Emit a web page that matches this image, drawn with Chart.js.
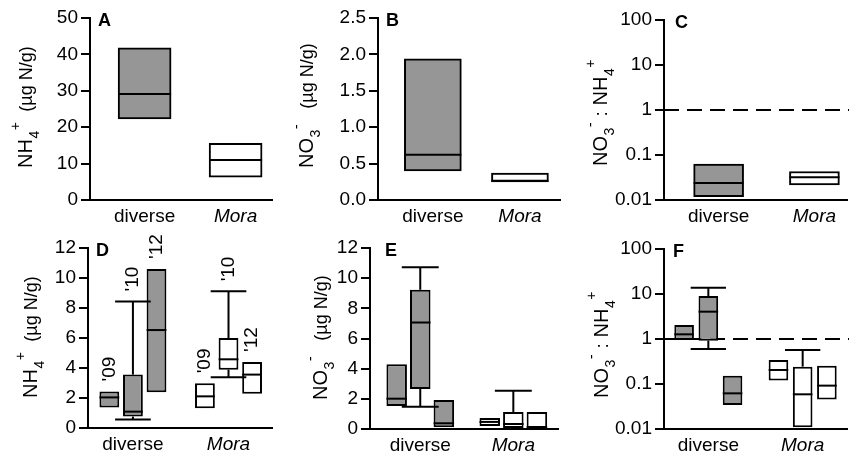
<!DOCTYPE html>
<html>
<head>
<meta charset="utf-8">
<script src="https://cdn.jsdelivr.net/npm/chart.js@4.4.1/dist/chart.umd.min.js"></script>
<style>
  body { margin: 0; background: #fff; }
  #wrap { position: relative; width: 849px; height: 461px; overflow: hidden; }
  canvas { position: absolute; }
</style>
</head>
<body>
<div id="wrap">
  <canvas id="panelA" width="283" height="230" style="left:0;top:0"></canvas>
  <canvas id="panelB" width="283" height="230" style="left:283px;top:0"></canvas>
  <canvas id="panelC" width="283" height="230" style="left:566px;top:0"></canvas>
  <canvas id="panelD" width="283" height="231" style="left:0;top:230px"></canvas>
  <canvas id="panelE" width="283" height="231" style="left:283px;top:230px"></canvas>
  <canvas id="panelF" width="283" height="231" style="left:566px;top:230px"></canvas>
</div>
<script>
// ===== Data =====
const groups = ['diverse', 'Mora'];
const years = ["'09", "'10", "'12"];
const ratioTicks = [0.01, 0.1, 1, 10, 100];

// A: NH4+ (all years pooled)
const nh4Q1 = [22.3, 6.3];
const nh4Median = [29.1, 11.0];
const nh4Q3 = [41.8, 15.6];

// B: NO3- (pooled)
const no3Q1 = [0.40, 0.25];
const no3Median = [0.62, 0.265];
const no3Q3 = [1.94, 0.37];

// C: NO3- : NH4+ (pooled)
const ratioQ1 = [0.0119, 0.0216];
const ratioMedian = [0.024, 0.032];
const ratioQ3 = [0.063, 0.043];

// D: NH4+ by year -> [diverse, Mora]
const nh4YearQ1 = [[1.36, 1.31], [0.76, 3.89], [2.38, 2.29]];
const nh4YearMedian = [[2.04, 2.11], [1.09, 4.58], [6.53, 3.56]];
const nh4YearQ3 = [[2.44, 2.98], [3.56, 6.0], [10.6, 4.4]];
const nh4YearLow = [[null, null], [0.56, 3.38], [null, null]];
const nh4YearHigh = [[null, null], [8.44, 9.11], [null, null]];

// E: NO3- by year
const no3YearQ1 = [[1.53, 0.2], [2.65, 0.07], [0.12, 0.07]];
const no3YearMedian = [[2.01, 0.47], [7.06, 0.33], [0.38, 0.13]];
const no3YearQ3 = [[4.29, 0.73], [9.23, 1.13], [1.92, 1.13]];
const no3YearLow = [[null, null], [1.48, null], [null, null]];
const no3YearHigh = [[null, null], [10.73, 2.53], [null, null]];

// F: ratio by year
const ratioYearQ1 = [[0.95, 0.119], [0.92, 0.0109], [0.034, 0.045]];
const ratioYearMedian = [[1.27, 0.205], [4.05, 0.059], [0.062, 0.092]];
const ratioYearQ3 = [[2.05, 0.34], [9.0, 0.243], [0.153, 0.255]];
const ratioYearLow = [[null, null], [0.6, null], [null, null]];
const ratioYearHigh = [[null, null], [13.8, 0.57], [null, null]];

// ===== Styles =====
const FONT = '"Liberation Sans", Arial, Helvetica, sans-serif';
const groupColors = ['#969696', '#ffffff'];
Chart.defaults.font.family = FONT;

const nh4Title = [['NH', 20, 0], ['4', 14, 7], ['+', 14, -12], ['  (\u00b5g N/g)', 18, 0]];
const no3Title = [['NO', 20, 0], ['3', 14, 7], ['-', 15, -12], ['   (\u00b5g N/g)', 18, 0]];
const ratioTitle = [['NO', 20, 0], ['3', 14, 7], ['-', 15, -12], [' : ', 19, 0], ['NH', 20, 0], ['4', 14, 7], ['+', 14, -12]];

// ===== Box plot extras: medians, whiskers, labels =====
function strokeLine(ctx, x1, y1, x2, y2) {
  ctx.beginPath();
  ctx.moveTo(x1, y1);
  ctx.lineTo(x2, y2);
  ctx.stroke();
}

const boxExtras = {
  id: 'boxExtras',
  beforeDatasetsDraw(chart, args, opts) {
    if (opts.refLine == null) return;
    const ctx = chart.ctx;
    const y = chart.scales.y.getPixelForValue(opts.refLine);
    ctx.save();
    ctx.strokeStyle = '#000';
    ctx.lineWidth = 2;
    ctx.setLineDash([15, 8]);
    strokeLine(ctx, chart.chartArea.left, y, chart.width, y);
    ctx.restore();
  },
  afterDatasetsDraw(chart, args, opts) {
    const ctx = chart.ctx;
    const yScale = chart.scales.y;
    chart.data.datasets.forEach((ds, di) => {
      const meta = chart.getDatasetMeta(di);
      meta.data.forEach((bar, i) => {
        const half = bar.width / 2;
        const capHalf = bar.width * 0.9;
        const yTop = yScale.getPixelForValue(ds.data[i].y[1]);
        const yBot = yScale.getPixelForValue(ds.data[i].y[0]);
        ctx.save();
        ctx.strokeStyle = '#000';
        ctx.lineWidth = 2;
        const ym = yScale.getPixelForValue(ds.median[i]);
        strokeLine(ctx, bar.x - half, ym, bar.x + half, ym);
        let labelY = yTop;
        if (ds.high && ds.high[i] != null) {
          const yh = yScale.getPixelForValue(ds.high[i]);
          strokeLine(ctx, bar.x, yTop, bar.x, yh);
          strokeLine(ctx, bar.x - capHalf, yh, bar.x + capHalf, yh);
          labelY = yh;
        }
        if (ds.low && ds.low[i] != null) {
          const yl = yScale.getPixelForValue(ds.low[i]);
          strokeLine(ctx, bar.x, yBot, bar.x, yl);
          strokeLine(ctx, bar.x - capHalf, yl, bar.x + capHalf, yl);
        }
        if (opts.yearLabels) {
          ctx.translate(bar.x, labelY - 10);
          ctx.rotate(-Math.PI / 2);
          ctx.fillStyle = '#000';
          ctx.font = '19px ' + FONT;
          ctx.textAlign = 'left';
          ctx.textBaseline = 'middle';
          ctx.fillText(years[di], 0, 0);
        }
        ctx.restore();
      });
    });
  },
  afterDraw(chart, args, opts) {
    const ctx = chart.ctx;
    const area = chart.chartArea;
    ctx.save();
    ctx.fillStyle = '#000';
    ctx.font = 'bold 18px ' + FONT;
    ctx.textBaseline = 'alphabetic';
    ctx.fillText(opts.letter, area.left + opts.letterDx, area.top + 8);
    // rotated y title built from runs (sub/superscripts)
    ctx.translate(opts.titleX, opts.titleY);
    ctx.rotate(-Math.PI / 2);
    let x = 0;
    opts.title.forEach(run => {
      ctx.font = run[1] + 'px ' + FONT;
      ctx.fillText(run[0], x, run[2]);
      x += ctx.measureText(run[0]).width + 0.5;
    });
    ctx.restore();
  }
};

// ===== Build datasets =====
function pooledDataset(q1, median, q3) {
  return {
    data: q1.map((v, i) => ({ x: i, y: [v, q3[i]] })),
    median: median,
    backgroundColor: groupColors,
    borderColor: '#000',
    borderWidth: 2,
    borderSkipped: false
  };
}

function yearDatasets(q1, median, q3, low, high) {
  return years.map((yr, k) => ({
    label: yr,
    data: q1[k].map((v, i) => ({ x: i, y: [v, q3[k][i]] })),
    median: median[k],
    low: low[k],
    high: high[k],
    backgroundColor: groupColors,
    borderColor: '#000',
    borderWidth: 2,
    borderSkipped: false
  }));
}

function linearY(max, step, yWidth, fmt) {
  return {
    type: 'linear', min: 0, max: max,
    grid: { drawOnChartArea: false, drawTicks: true, tickLength: 9, color: '#000', lineWidth: 2 },
    border: { display: true, color: '#000', width: 2 },
    afterFit: s => { s.width = yWidth; },
    ticks: { stepSize: step, padding: 3, color: '#000', font: { size: 19 }, callback: fmt || (v => String(v)) }
  };
}

function logY(yWidth) {
  return {
    type: 'logarithmic', min: 0.01, max: 100,
    grid: { drawOnChartArea: false, drawTicks: true, tickLength: 9, color: '#000', lineWidth: 2 },
    border: { display: true, color: '#000', width: 2 },
    afterBuildTicks: s => { s.ticks = ratioTicks.map(v => ({ value: v })); },
    afterFit: s => { s.width = yWidth; },
    ticks: { padding: 3, color: '#000', font: { size: 19 }, callback: v => String(v) }
  };
}

// ===== Create Chart =====
function makePanel(canvasId, p) {
  return new Chart(document.getElementById(canvasId), {
    type: 'bar',
    data: { datasets: p.datasets },
    plugins: [boxExtras],
    options: {
      responsive: false,
      animation: false,
      events: [],
      devicePixelRatio: 1,
      layout: { padding: p.padding },
      datasets: { bar: p.bar },
      plugins: {
        legend: { display: false },
        tooltip: { enabled: false },
        boxExtras: p.extras
      },
      scales: {
        x: {
          type: 'linear',
          min: p.xRange[0],
          max: p.xRange[1],
          offset: false,
          grid: { display: false, drawTicks: false, offset: false },
          border: { display: true, color: '#000', width: 2 },
          afterBuildTicks: s => { s.ticks = groups.map((g, i) => ({ value: i })); },
          afterFit: s => { s.height = p.xHeight; },
          ticks: {
            padding: 5,
            color: '#000',
            autoSkip: false,
            maxRotation: 0,
            font: c => ({ size: 19, style: c.tick && c.tick.value === 1 ? 'italic' : 'normal' }),
            callback: v => groups[v]
          }
        },
        y: p.y
      }
    }
  });
}

makePanel('panelA', {
  datasets: [pooledDataset(nh4Q1, nh4Median, nh4Q3)],
  padding: { left: 0, top: 18, right: 11, bottom: 0 },
  bar: { barThickness: 53 },
  xRange: [-0.6, 1.4], xHeight: 30,
  y: linearY(50, 10, 90),
  extras: { letter: 'A', letterDx: 8, title: nh4Title, titleX: 32, titleY: 168 }
});

makePanel('panelB', {
  datasets: [pooledDataset(no3Q1, no3Median, no3Q3)],
  padding: { left: 0, top: 18, right: 6, bottom: 0 },
  bar: { barThickness: 57 },
  xRange: [-0.63, 1.46], xHeight: 30,
  y: linearY(2.5, 0.5, 95, v => v.toFixed(1)),
  extras: { letter: 'B', letterDx: 8, title: no3Title, titleX: 30, titleY: 168 }
});

makePanel('panelC', {
  datasets: [pooledDataset(ratioQ1, ratioMedian, ratioQ3)],
  padding: { left: 0, top: 20, right: 2, bottom: 0 },
  bar: { barThickness: 50 },
  xRange: [-0.57, 1.34], xHeight: 30,
  y: logY(98),
  extras: { letter: 'C', letterDx: 11, title: ratioTitle, titleX: 41, titleY: 166, refLine: 1 }
});

makePanel('panelD', {
  datasets: yearDatasets(nh4YearQ1, nh4YearMedian, nh4YearQ3, nh4YearLow, nh4YearHigh),
  padding: { left: 0, top: 18, right: 11, bottom: 0 },
  bar: { categoryPercentage: 0.74, barPercentage: 0.84 },
  xRange: [-0.47, 1.455], xHeight: 33,
  y: linearY(12, 2, 88),
  extras: { letter: 'D', letterDx: 8, title: nh4Title, titleX: 37, titleY: 168, yearLabels: true }
});

makePanel('panelE', {
  datasets: yearDatasets(no3YearQ1, no3YearMedian, no3YearQ3, no3YearLow, no3YearHigh),
  padding: { left: 0, top: 18, right: 8, bottom: 0 },
  bar: { categoryPercentage: 0.76, barPercentage: 0.87 },
  xRange: [-0.54, 1.48], xHeight: 32,
  y: linearY(12, 2, 87),
  extras: { letter: 'E', letterDx: 15, title: no3Title, titleX: 44, titleY: 170 }
});

makePanel('panelF', {
  datasets: yearDatasets(ratioYearQ1, ratioYearMedian, ratioYearQ3, ratioYearLow, ratioYearHigh),
  padding: { left: 0, top: 19, right: 2, bottom: 0 },
  bar: { categoryPercentage: 0.77, barPercentage: 0.81 },
  xRange: [-0.47, 1.47], xHeight: 32,
  y: logY(98),
  extras: { letter: 'F', letterDx: 9, title: ratioTitle, titleX: 42, titleY: 168, refLine: 1 }
});
</script>
</body>
</html>
